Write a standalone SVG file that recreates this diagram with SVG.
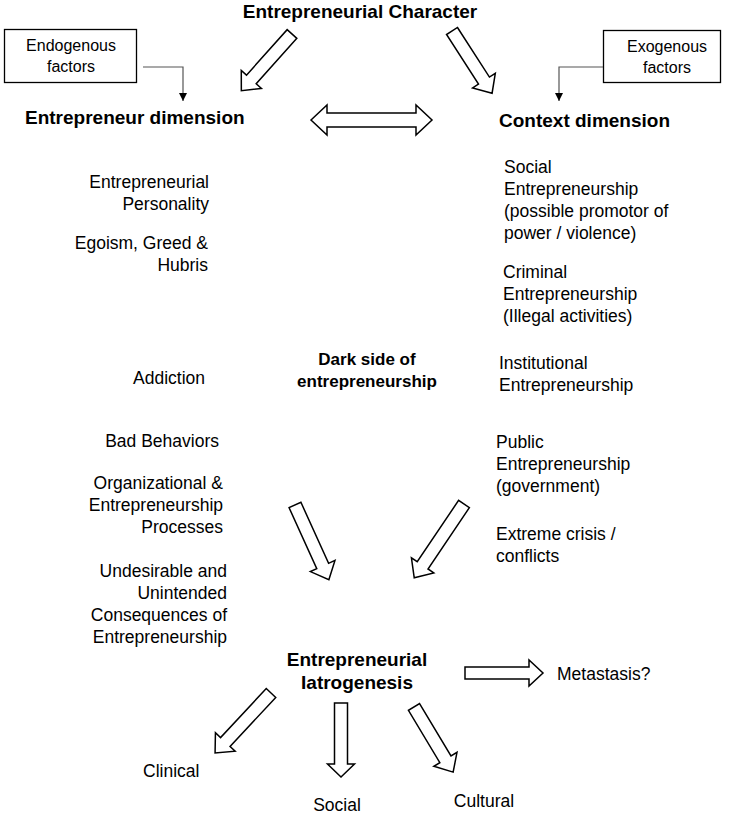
<svg xmlns="http://www.w3.org/2000/svg" width="739" height="816" viewBox="0 0 739 816">
<defs>
<style>
text{font-family:"Liberation Sans",Arial,sans-serif;fill:#000}
.t{font-size:17.5px}
.b{font-size:19px;font-weight:bold}
.bs{font-size:17px;font-weight:bold}
.s{font-size:16px}
.e{text-anchor:end}
.m{text-anchor:middle}
.box{fill:#fff;stroke:#000;stroke-width:1.3}
.blk{fill:#fff;stroke:#000;stroke-width:1.5;stroke-linejoin:miter}
.ln{fill:none;stroke:#555;stroke-width:1.2}
</style>
<marker id="tri" viewBox="0 0 10 10" refX="10" refY="5" markerWidth="8" markerHeight="9" markerUnits="userSpaceOnUse" orient="auto">
<path d="M0,0 L10,5 L0,10 Z" fill="#000"/>
</marker>
</defs>
<rect width="739" height="816" fill="#fff"/>

<g id="character"><text class="b m" x="360" y="18">Entrepreneurial Character</text></g>

<g id="endogenous">
<rect class="box" x="4.5" y="29.5" width="132" height="53"/>
<text class="s m" x="71" y="51">Endogenous</text>
<text class="s m" x="71" y="72">factors</text>
</g>
<g id="exogenous">
<rect class="box" x="603.5" y="30.5" width="117" height="52"/>
<text class="s m" x="667" y="52">Exogenous</text>
<text class="s m" x="667" y="73">factors</text>
</g>

<g id="entrepreneur-dimension"><text class="b" x="25" y="124">Entrepreneur dimension</text></g>
<g id="context-dimension"><text class="b" x="499" y="127">Context dimension</text></g>

<g id="personality"><text class="t e" x="209" y="188">Entrepreneurial</text><text class="t e" x="209" y="210">Personality</text></g>
<g id="egoism"><text class="t e" x="208" y="249">Egoism, Greed &amp;</text><text class="t e" x="208" y="271">Hubris</text></g>
<g id="addiction"><text class="t e" x="205" y="384">Addiction</text></g>
<g id="bad-behaviors"><text class="t e" x="219" y="447">Bad Behaviors</text></g>
<g id="processes"><text class="t e" x="223" y="489">Organizational &amp;</text><text class="t e" x="223" y="511">Entrepreneurship</text><text class="t e" x="223" y="533">Processes</text></g>
<g id="consequences"><text class="t e" x="227" y="577">Undesirable and</text><text class="t e" x="227" y="599">Unintended</text><text class="t e" x="227" y="621">Consequences of</text><text class="t e" x="227" y="643">Entrepreneurship</text></g>

<g id="social-ent"><text class="t" x="504" y="173">Social</text><text class="t" x="504" y="195">Entrepreneurship</text><text class="t" x="504" y="217">(possible promotor of</text><text class="t" x="504" y="239">power / violence)</text></g>
<g id="criminal-ent"><text class="t" x="503" y="278">Criminal</text><text class="t" x="503" y="300">Entrepreneurship</text><text class="t" x="503" y="322">(Illegal activities)</text></g>
<g id="institutional-ent"><text class="t" x="499" y="369">Institutional</text><text class="t" x="499" y="391">Entrepreneurship</text></g>
<g id="public-ent"><text class="t" x="496" y="448">Public</text><text class="t" x="496" y="470">Entrepreneurship</text><text class="t" x="496" y="492">(government)</text></g>
<g id="crisis"><text class="t" x="496" y="540">Extreme crisis /</text><text class="t" x="496" y="562">conflicts</text></g>

<g id="dark-side"><text class="bs m" x="367" y="365">Dark side of</text><text class="bs m" x="367" y="387">entrepreneurship</text></g>

<g id="iatrogenesis"><text class="b m" x="357" y="666">Entrepreneurial</text><text class="b m" x="357" y="689">Iatrogenesis</text></g>
<g id="metastasis"><text class="t" x="557" y="680">Metastasis?</text></g>
<g id="clinical"><text class="t" x="143" y="777">Clinical</text></g>
<g id="social"><text class="t m" x="337" y="811">Social</text></g>
<g id="cultural"><text class="t m" x="484" y="807">Cultural</text></g>

<g id="connectors">
<path class="ln" d="M143,67 H183 V101" marker-end="url(#tri)"/>
<path class="ln" d="M603,67 H559 V101" marker-end="url(#tri)"/>
<polygon class="blk" transform="translate(292,34) rotate(131.8)" points="0,-6.5 61,-6.5 61,-13.5 76,0 61,13.5 61,6.5 0,6.5"/>
<polygon class="blk" transform="translate(452,31) rotate(57.2)" points="0,-6.5 59,-6.5 59,-13.5 74,0 59,13.5 59,6.5 0,6.5"/>
<polygon class="blk" points="311,120 327,105 327,113 416,113 416,105 432,120 416,135 416,127 327,127 327,135"/>
<polygon class="blk" transform="translate(295,505) rotate(65.6)" points="0,-6.5 67,-6.5 67,-13.5 82,0 67,13.5 67,6.5 0,6.5"/>
<polygon class="blk" transform="translate(464,504) rotate(124)" points="0,-6.5 74,-6.5 74,-13.5 89,0 74,13.5 74,6.5 0,6.5"/>
<polygon class="blk" transform="translate(271,693) rotate(133)" points="0,-6.5 67,-6.5 67,-13.5 82,0 67,13.5 67,6.5 0,6.5"/>
<polygon class="blk" transform="translate(341,703) rotate(90)" points="0,-6.5 61,-6.5 61,-13.5 74,0 61,13.5 61,6.5 0,6.5"/>
<polygon class="blk" transform="translate(414,707) rotate(59)" points="0,-6.5 61,-6.5 61,-13.5 76,0 61,13.5 61,6.5 0,6.5"/>
<polygon class="blk" points="465,667 529,667 529,660 543,673 529,686 529,679 465,679"/>
</g>
</svg>
